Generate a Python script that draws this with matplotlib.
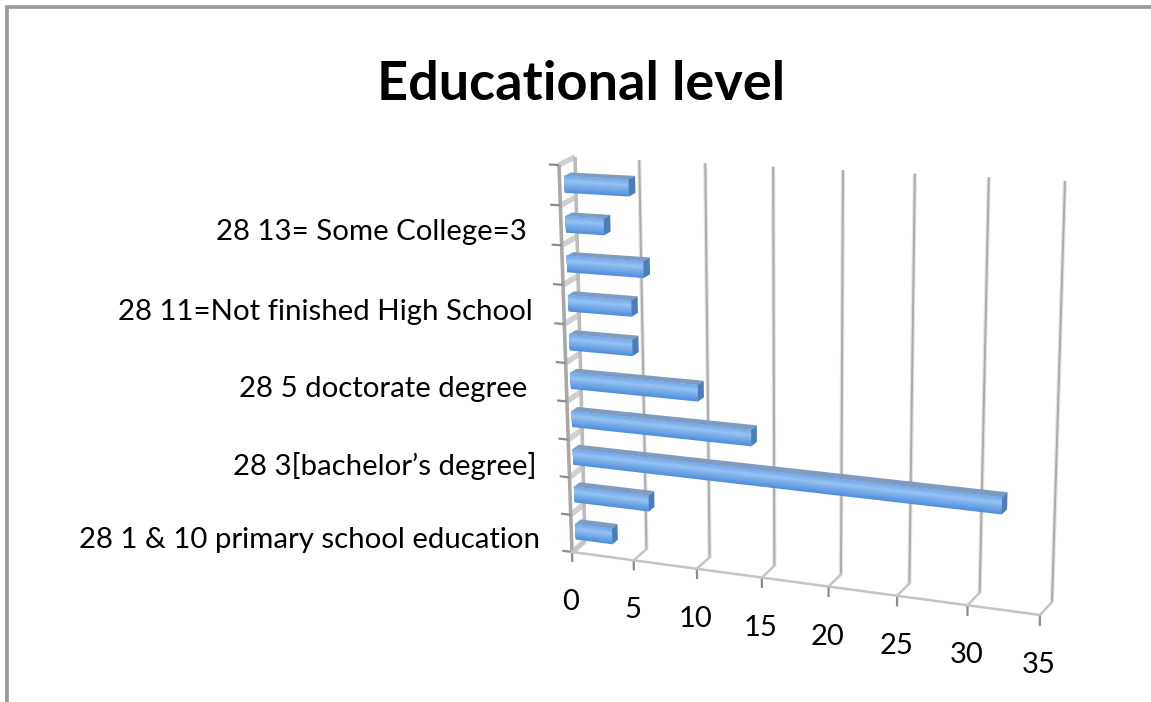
#!/usr/bin/env python3
"""Educational level: 3D style horizontal bar chart, drawn on a flat axes."""

import matplotlib
matplotlib.use("Agg")
import matplotlib.pyplot as plt
import numpy as np
from matplotlib.transforms import Transform

# Bars from the bottom up
values = [3, 6, 32, 14, 10, 5, 5, 6, 3, 5]
cat_positions = [0.5, 2.5, 4.5, 6.5, 8.5]
cat_labels = [
    "28 1 & 10 primary school education",
    "28 3[bachelor\u2019s degree]",
    "28 5 doctorate degree",
    "28 11=Not finished High School",
    "28 13= Some College=3",
]
label_shift = [-31, -32, -39, -31, -34]
value_ticks = [0, 5, 10, 15, 20, 25, 30, 35]

# Corners of the plot box in pixels: (value, category) -> front and back planes
VMAX = 35
NCAT = 10
FRONT = [(572, 552), (1040, 615), (1050, 191), (559, 165)]
BACK = [(585, 541), (1052, 602), (1065, 181), (575, 157)]


def homography(corners):
    """Solve the plane mapping from the chart box to four pixel corners."""
    src = [(0, 0), (VMAX, 0), (VMAX, NCAT), (0, NCAT)]
    A, b = [], []
    for (u, v), (x, y) in zip(src, corners):
        A.append([u, v, 1, 0, 0, 0, -u * x, -v * x])
        A.append([0, 0, 0, u, v, 1, -u * y, -v * y])
        b += [x, y]
    return np.append(np.linalg.solve(np.array(A, float), np.array(b, float)), 1).reshape(3, 3)


H_FRONT = homography(FRONT)
H_BACK = homography(BACK)


def apply_h(H, v, c):
    p = H @ np.vstack([v, c, np.ones_like(v)])
    return (p[:2] / p[2]).T


class BoxTransform(Transform):
    """Maps two chart coordinates to pixels, the third one is held fixed."""
    input_dims = 2
    output_dims = 2
    is_separable = False

    def __init__(self, depth=None, value=None, cat=None):
        super().__init__()
        self.fix_depth, self.fix_value, self.fix_cat = depth, value, cat

    def transform_non_affine(self, values):
        a, b = np.asarray(values, float).T
        if self.fix_depth is not None:
            v, c, d = a, b, np.full_like(a, self.fix_depth)
        elif self.fix_value is not None:
            v, c, d = np.full_like(a, self.fix_value), b, a
        else:
            v, c, d = a, np.full_like(a, self.fix_cat), b
        d = d[:, None]
        return (1 - d) * apply_h(H_FRONT, v, c) + d * apply_h(H_BACK, v, c)


def draw_grid(ax):
    back = BoxTransform(depth=1) + ax.transData
    front = BoxTransform(depth=0) + ax.transData

    # Left wall
    for d, col in [(0, "#a8a8a8"), (1, "#bcbcbc")]:
        ax.plot([0, 0], [0, NCAT], transform=BoxTransform(depth=d) + ax.transData,
                color=col, lw=2.6, solid_capstyle="butt", zorder=2)
    for i in range(NCAT + 1):
        ax.plot([0, 1], [i, i], transform=BoxTransform(value=0) + ax.transData,
                color="#d0d0d0", lw=4, solid_capstyle="butt", zorder=1)
        ax.plot([-0.8, 0], [i, i], transform=front, color="#8c8c8c", lw=1.6,
                solid_capstyle="butt", zorder=2)

    # Back wall gridlines and floor
    ax.plot([0, VMAX], [0, 0], transform=front, color="#c4c4c4", lw=1.8, zorder=2)
    floor = BoxTransform(cat=0) + ax.transData
    for v in value_ticks:
        if v > 0:
            ax.plot([v, v], [0, NCAT], transform=back, color="#e2e2e2", lw=3,
                    solid_capstyle="butt", zorder=1)
            ax.plot([v, v], [0, NCAT], transform=back, color="#ababab", lw=1.4,
                    solid_capstyle="butt", zorder=2)
        ax.plot([v, v], [0, -0.27], transform=front, color="#8c8c8c", lw=1.6,
                solid_capstyle="butt", zorder=2)
        ax.plot([v, v], [0, 1], transform=floor, color="#c4c4c4", lw=1.8, zorder=2)


def draw_bars(ax):
    face = BoxTransform(depth=0.3) + ax.transData
    dark = np.array([0.30, 0.55, 0.86])
    light = np.array([0.58, 0.76, 0.95])
    n_strips = 14
    for i, val in enumerate(values):
        c0, c1 = i + 0.25, i + 0.67
        edges = np.linspace(c0, c1, n_strips + 1)
        # Each strip runs up to the bar top, the next one paints over it: no seams
        for k in range(n_strips):
            t = (k + 0.5) / n_strips
            mix = 1 - abs(t - 0.68) / 0.68
            ax.fill([0, val, val, 0], [edges[k], edges[k], c1, c1],
                    transform=face, color=dark + (light - dark) * mix, lw=0, zorder=5)
        # Upper side of the bar
        ax.fill([0, val, val, 0], [0.3, 0.3, 0.72, 0.72],
                transform=BoxTransform(cat=c1) + ax.transData, color="#7f9cc0", lw=0, zorder=4)
        # End cap
        ax.fill([0.3, 0.72, 0.72, 0.3], [c0, c0, c1, c1],
                transform=BoxTransform(value=val) + ax.transData, color="#4b7db8", lw=0, zorder=6)


def main():
    fig = plt.figure(figsize=(11.51, 7.02), dpi=100)
    ax = fig.add_axes([0, 0, 1, 1])
    ax.set_xlim(0, 1151)
    ax.set_ylim(702, 0)
    ax.axis("off")

    # Outer chart frame, runs off the top right and the bottom
    ax.plot([7, 7, 1151], [702, 7, 7], color="#999999", lw=2.6, solid_joinstyle="miter")

    draw_grid(ax)
    draw_bars(ax)

    front = BoxTransform(depth=0) + ax.transData
    for pos, label, shift in zip(cat_positions, cat_labels, label_shift):
        ax.annotate(label, xy=(0, pos), xycoords=front, xytext=(shift, -7),
                    textcoords="offset pixels", ha="right", va="center",
                    family="Lato", fontsize=21.2, color="black")
    for v in value_ticks:
        ax.annotate(str(v), xy=(v, 0), xycoords=front, xytext=(-1, -50),
                    textcoords="offset pixels", ha="center", va="center",
                    family="Lato", fontsize=21, color="black")

    ax.text(581, 84, "Educational level", ha="center", va="center",
            family="Lato", fontweight="bold", fontsize=39, color="black")

    fig.savefig("out.png", dpi=100)
    plt.close(fig)


if __name__ == "__main__":
    main()
